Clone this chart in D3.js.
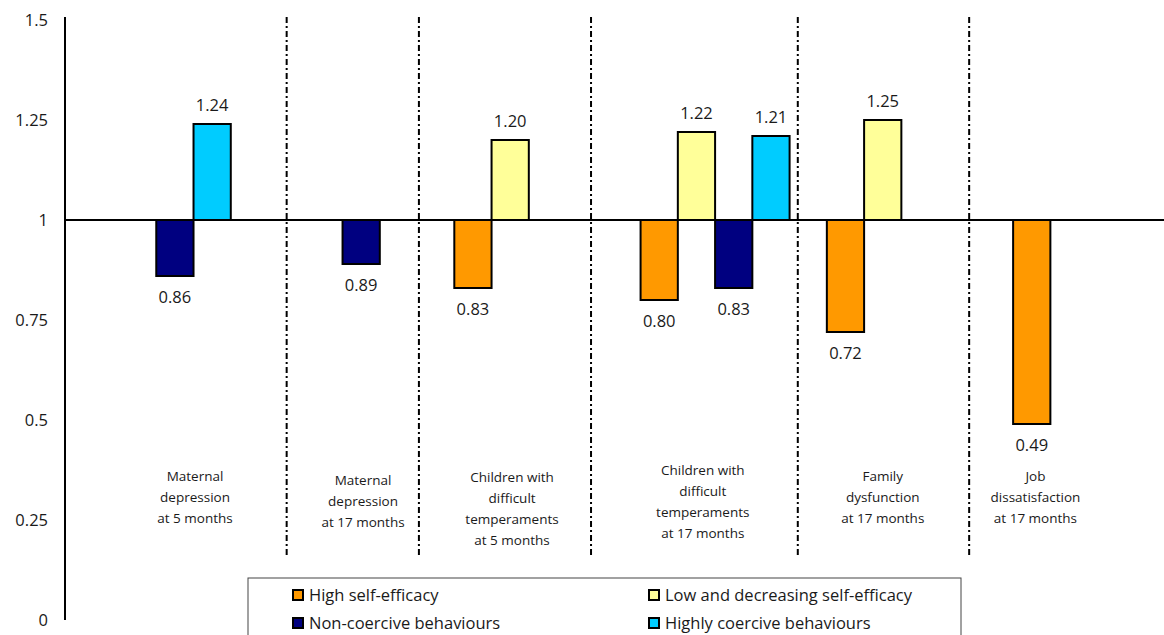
<!DOCTYPE html>
<html>
<head>
<meta charset="utf-8">
<script src="https://cdn.jsdelivr.net/npm/d3@7"></script>
<style>
	body { margin: 0; background: #fff; }
	text { font-family: "Open Sans", "Liberation Sans", sans-serif; fill: #1a1a1a; }
</style>
</head>
<body>
<div id="d3area"></div>
<script>
// data
var categories = [
	["Maternal", "depression", "at 5 months"],
	["Maternal", "depression", "at 17 months"],
	["Children with", "difficult", "temperaments", "at 5 months"],
	["Children with", "difficult", "temperaments", "at 17 months"],
	["Family", "dysfunction", "at 17 months"],
	["Job", "dissatisfaction", "at 17 months"]
];
var seriesNames = ["High self-efficacy", "Low and decreasing self-efficacy", "Non-coercive behaviours", "Highly coercive behaviours"];
var seriesColors = ["#FF9900", "#FFFF99", "#000080", "#00CCFF"];
var highSelfEfficacy = [null, null, 0.83, 0.80, 0.72, 0.49];
var lowDecreasing = [null, null, 1.20, 1.22, 1.25, null];
var nonCoercive = [0.86, 0.89, null, 0.83, null, null];
var highlyCoercive = [1.24, null, null, 1.21, null, null];
var yTicks = [0, 0.25, 0.5, 0.75, 1, 1.25, 1.5];

// layout (in bar-slot units)
var groupStart = [0, 5, 8, 13, 18, 23];
var dividerSlots = [3.5, 7.05, 11.67, 17.22, 21.82];
var labelSlots = [1.04, 5.55, 9.55, 14.67, 19.5, 23.6];
var labelTop = [476, 480, 477, 470, 476, 476];

var svgSize = {w:1164, h:635};
var svg = d3.select("#d3area").append("svg")
	.attr("width", svgSize.w)
	.attr("height", svgSize.h);

var x = d3.scaleLinear().domain([-2.45, 27.05]).range([65, 1164]);
var y = d3.scaleLinear().domain([0, 1.5]).range([620, 20]);
var slotW = x(1) - x(0);

var allSeries = [highSelfEfficacy, lowDecreasing, nonCoercive, highlyCoercive];

// build the bar list, bars of a group sit side by side
var bars = [];
categories.forEach(function(c, ci){
	var k = 0;
	allSeries.forEach(function(s, si){
		if (s[ci] != null) {
			bars.push({slot: groupStart[ci] + k, value: s[ci], series: si});
			k++;
		}
	});
});

// dividers
svg.selectAll(".divider").data(dividerSlots).enter().append("line")
	.attr("class", "divider")
	.attr("x1", function(d){ return x(d); })
	.attr("x2", function(d){ return x(d); })
	.attr("y1", 17).attr("y2", 555)
	.style("stroke", "#000")
	.style("stroke-width", 2)
	.style("stroke-dasharray", "6,3,2,3");

// bars
svg.selectAll(".bar").data(bars).enter().append("rect")
	.attr("class", "bar")
	.attr("x", function(d){ return x(d.slot); })
	.attr("width", slotW)
	.attr("y", function(d){ return y(Math.max(d.value, 1)); })
	.attr("height", function(d){ return Math.abs(y(d.value) - y(1)); })
	.style("fill", function(d){ return seriesColors[d.series]; })
	.style("stroke", "#000")
	.style("stroke-width", 2);

// value labels
svg.selectAll(".val").data(bars).enter().append("text")
	.attr("class", "val")
	.attr("x", function(d){ return x(d.slot) + slotW/2; })
	.attr("y", function(d){ return d.value >= 1 ? y(d.value) - 13 : y(d.value) + 27; })
	.attr("text-anchor", "middle")
	.style("font-size", "16.5px")
	.text(function(d){ return d.value.toFixed(2); });

// baseline at 1
svg.append("line")
	.attr("x1", x.range()[0]).attr("x2", svgSize.w)
	.attr("y1", y(1)).attr("y2", y(1))
	.style("stroke", "#000").style("stroke-width", 2);

// y axis
var yAxis = d3.axisLeft(y).tickValues(yTicks).tickSize(0).tickPadding(17)
	.tickFormat(function(d){ return String(d); });
var ya = svg.append("g").attr("transform", "translate(65,0)").call(yAxis);
ya.select(".domain").remove();
ya.selectAll("text").style("font-size", "16.5px").style("font-family", null);
svg.append("line")
	.attr("x1", 65).attr("x2", 65)
	.attr("y1", 17).attr("y2", y(0))
	.style("stroke", "#000").style("stroke-width", 2);

// category labels
categories.forEach(function(lines, ci){
	var t = svg.append("text")
		.attr("text-anchor", "middle")
		.style("font-size", "13.5px");
	lines.forEach(function(l, li){
		t.append("tspan")
			.attr("x", x(labelSlots[ci]))
			.attr("y", labelTop[ci] + 5 + li*21)
			.text(l);
	});
});

// legend
var legend = svg.append("g");
legend.append("rect")
	.attr("x", 248).attr("y", 578)
	.attr("width", 713).attr("height", 70)
	.style("fill", "#fff").style("stroke", "#444").style("stroke-width", 1);
var legendPos = [[293, 595], [649, 595], [293, 623], [649, 623]];
seriesNames.forEach(function(n, i){
	var p = legendPos[i];
	legend.append("rect")
		.attr("x", p[0]).attr("y", p[1] - 5)
		.attr("width", 10).attr("height", 10)
		.style("fill", seriesColors[i]).style("stroke", "#000").style("stroke-width", 2);
	legend.append("text")
		.attr("x", p[0] + 16).attr("y", p[1] + 6)
		.style("font-size", "16.5px")
		.text(n);
});
</script>
</body>
</html>
